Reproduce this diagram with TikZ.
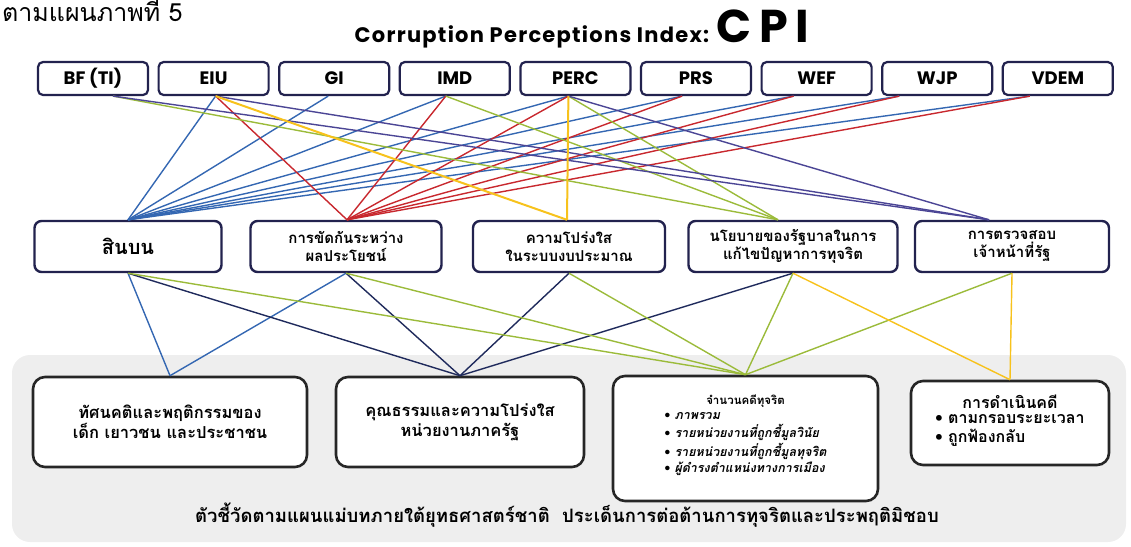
\documentclass[tikz,border=0pt]{standalone}
\usepackage{fontspec}
\usepackage{tikz}
\usetikzlibrary{arrows.meta,calc,fit,positioning}
\newfontfamily\thaifont[Script=Thai]{Loma}
\newfontfamily\latinfont{Poppins}
\newfontfamily\titlefont[LetterSpace=6]{Poppins}
\definecolor{cpiblue}{HTML}{3467B2}
\definecolor{cpired}{HTML}{C8282E}
\definecolor{cpiyellow}{HTML}{F7C21C}
\definecolor{cpigreen}{HTML}{9BBB3A}
\definecolor{cpipurple}{HTML}{4B4595}
\definecolor{cpinavy}{HTML}{1F2A5C}
\definecolor{boxline}{HTML}{22224E}
\definecolor{bggray}{HTML}{EEEEEE}
\tikzset{
    srcbox/.style={draw=boxline,line width=2.2pt,rounded corners=5pt,fill=white,minimum width=110pt,minimum height=33pt,inner sep=0pt,font=\latinfont\bfseries\fontsize{18}{20}\selectfont},
    midbox/.style={draw=boxline,line width=2.4pt,rounded corners=7pt,fill=white,minimum height=51pt,inner sep=0pt,align=center,font=\thaifont\bfseries\fontsize{15}{18}\selectfont},
    goalbox/.style={draw=black!85,line width=2.6pt,rounded corners=12pt,fill=white,inner sep=0pt,align=center,font=\thaifont\bfseries\fontsize{16.5}{20}\selectfont},
    link/.style={line width=1.4pt}
}
\newcommand\caseitem[1]{\textbullet\ {\itshape #1}}

\begin{document}
\begin{tikzpicture}[x=1pt,y=-1pt]
            \useasboundingbox (0,0) rectangle (1131,546);
            \clip (0,0) rectangle (1131,546);
            \fill[bggray,rounded corners=18pt] (12,355) rectangle (1126,542);
            \node[anchor=base west,inner sep=0pt,font=\thaifont\fontsize{25}{27}\selectfont] (figref) at (2,21) {ตามแผนภาพที่ 5};
            \node[anchor=base,inner sep=0pt,font=\titlefont\bfseries\fontsize{21}{24}\selectfont] (title) at (582,42) {Corruption Perceptions Index: {\latinfont\bfseries\fontsize{46}{46}\selectfont C\,P\,I}};
            \foreach \n/\t/\d [count=\i from 0] in {bf/BF (TI)/20,eiu/EIU/2,gi/GI/-6,imd/IMD/-9,perc/PERC/-7,prs/PRS/-14,wef/WEF/-23,wjp/WJP/-38,vdem/VDEM/-28}{
                \node[srcbox] (\n) at (93+120.6*\i,78.5) {\t};
                \coordinate (\n-o) at ([xshift=\d pt]\n.south);}
            \foreach \n/\x/\w/\d/\t in {bribe/128/187/0/{\fontsize{20}{22}\selectfont สินบน},coi/346/191/1/{การขัดกันระหว่าง\\ผลประโยชน์},budget/569/192/-2/{ความโปร่งใส\\ในระบบงบประมาณ},policy/793/209/-15/{นโยบายของรัฐบาลในการ\\แก้ไขปัญหาการทุจริต},audit/1012/194/-23/{การตรวจสอบ\\เจ้าหน้าที่รัฐ}}{
                \node[midbox,minimum width=\w pt] (\n) at (\x,246.5) {\t};
                \coordinate (\n-i) at ([xshift=\d pt]\n.north);}
            \node[goalbox,minimum width=274pt,minimum height=90pt] (attitude) at (170,422) {ทัศนคติและพฤติกรรมของ\\เด็ก เยาวชน และประชาชน};
            \node[goalbox,minimum width=248pt,minimum height=90pt] (integrity) at (460,422) {คุณธรรมและความโปร่งใส\\หน่วยงานภาครัฐ};
            \node[goalbox,minimum width=265pt,minimum height=125pt,font=\thaifont\bfseries\fontsize{12.5}{16.5}\selectfont] (cases) at (745.5,438.5) {{\fontsize{11.5}{14}\selectfont จำนวนคดีทุจริต}\\\begin{tabular}{@{}l@{}}\caseitem{ภาพรวม}\\\caseitem{รายหน่วยงานที่ถูกชี้มูลวินัย}\\\caseitem{รายหน่วยงานที่ถูกชี้มูลทุจริต}\\\caseitem{ผู้ดำรงตำแหน่งทางการเมือง}\end{tabular}\\[4pt]};
            \node[goalbox,minimum width=198pt,minimum height=84pt,font=\thaifont\bfseries\fontsize{16}{19}\selectfont] (lawsuit) at (1010,423) {\\[-8pt]การดำเนินคดี\\\begin{tabular}{@{}l@{}}\textbullet\ ตามกรอบระยะเวลา\\\textbullet\ ถูกฟ้องกลับ\end{tabular}};
            \node[font=\thaifont\bfseries\fontsize{18.5}{22}\selectfont] (caption) at (567,515) {ตัวชี้วัดตามแผนแม่บทภายใต้ยุทธศาสตร์ชาติ\ \ ประเด็นการต่อต้านการทุจริตและประพฤติมิชอบ};
            \foreach \s in {eiu,gi,imd,perc,prs,wef,wjp,vdem}{\draw[link,cpiblue] (\s-o) -- (bribe-i);}
            \foreach \s in {eiu,imd,perc,prs,wef,wjp,vdem}{\draw[link,cpired] (\s-o) -- (coi-i);}
            \foreach \s in {bf,imd,perc}{\draw[link,cpigreen] (\s-o) -- (policy-i);}
            \foreach \s in {bf,eiu,perc}{\draw[link,cpipurple] (\s-o) -- (audit-i);}
            \foreach \s in {eiu,perc}{\draw[link,cpiyellow,line width=2pt] (\s-o) -- (budget-i);}
            \foreach \s in {bribe,coi}{\draw[link,cpiblue] (\s.south) -- (attitude.north);}
            \foreach \s in {bribe,coi,budget,policy}{\draw[link,cpinavy] (\s.south) -- (integrity.north);}
            \foreach \s in {bribe,coi,budget,policy,audit}{\draw[link,cpigreen] (\s.south) -- (cases.north);}
            \foreach \s in {policy,audit}{\draw[link,cpiyellow] (\s.south) -- (lawsuit.north);}
            % \node at (0,560){};
        \end{tikzpicture}
\end{document}
